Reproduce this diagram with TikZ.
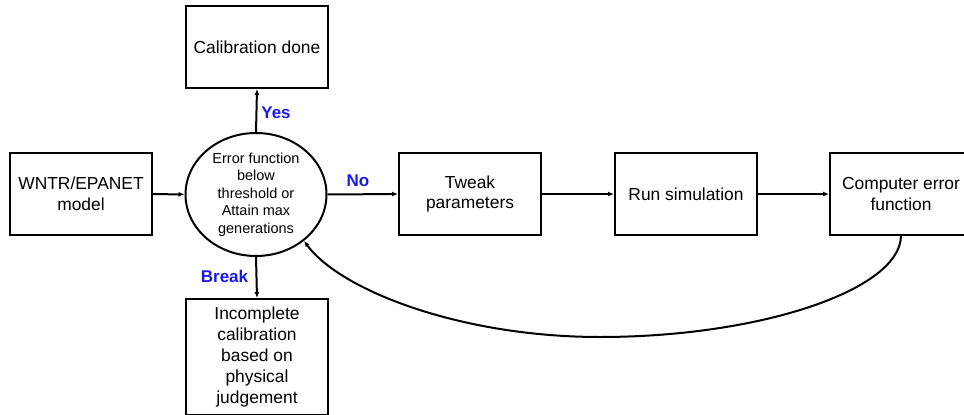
\documentclass[tikz,border=0pt]{standalone}
\usepackage{fontspec}
\setmainfont{Liberation Sans}
\usetikzlibrary{arrows.meta,shapes.geometric}
\definecolor{lblblue}{RGB}{25,25,235}
\tikzset{
  boxnode/.style={draw=black, line width=2pt, rectangle, minimum width=142pt, minimum height=82pt, inner sep=0pt, align=center, font=\fontsize{17.4}{20.9}\selectfont},
  decnode/.style={draw=black, line width=2pt, ellipse, minimum width=141pt, minimum height=123pt, inner sep=0pt, align=center, font=\fontsize{14.5}{17.5}\selectfont},
  lbl/.style={text=lblblue, font=\fontsize{17}{20}\selectfont\bfseries, inner sep=0pt},
  arr/.style={line width=2pt, -{Latex[length=6pt,width=5pt]}}
}
\begin{document}
\begin{tikzpicture}[x=1pt,y=-1pt]
\useasboundingbox (0,0) rectangle (964,415);
\clip (0,0) rectangle (964,415);
\node[boxnode] (wntr) at (81,194) {WNTR/EPANET\\model};
\node[decnode] (dec) at (256,194.5) {Error function\\below\\threshold or\\Attain max\\generations};
\node[boxnode] (done) at (257,47) {Calibration done};
\node[boxnode, minimum height=116pt] (inc) at (257,357) {Incomplete\\calibration\\based on\\physical\\judgement};
\node[boxnode] (tweak) at (470,194) {Tweak\\parameters};
\node[boxnode] (run) at (686,194) {Run simulation};
\node[boxnode] (cef) at (901,194) {Computer error\\function};
\node[lbl] (yes) at (276,113) {Yes};
\node[lbl] (no) at (358,181) {No};
\node[lbl] (brk) at (224.5,276) {Break};
\draw[arr] (wntr) -- (dec);
\draw[arr] (dec.north) -- (done.south);
\draw[arr] (dec.south) -- (inc.north);
\draw[arr] (dec.east) -- (tweak.west);
\draw[arr] (tweak) -- (run);
\draw[arr] (run) -- (cef);
\draw[arr] (cef.south) .. controls (900,290) and (760,337) .. (600,337) .. controls (460,337) and (340,290) .. (dec.-44);
\end{tikzpicture}
\end{document}
